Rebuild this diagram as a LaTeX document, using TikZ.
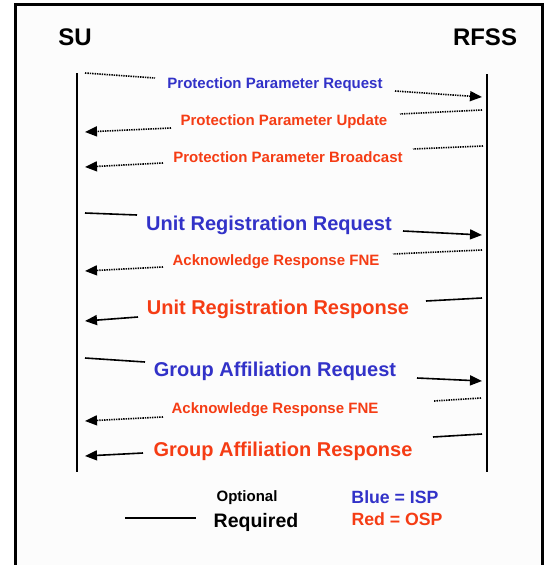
\documentclass[tikz,border=0pt]{standalone}
\usepackage{fontspec}
\setmainfont{Liberation Sans}
\usetikzlibrary{arrows.meta}
\definecolor{ispblue}{RGB}{50,50,200}
\definecolor{ospred}{RGB}{245,60,20}
\tikzset{
  optline/.style={line width=1.6pt, dash pattern=on 1.4pt off 1pt},
  reqline/.style={line width=1.6pt},
  tip/.style={-{Triangle[length=12pt,width=10pt]}},
  lifeline/.style={line width=2.6pt},
  frameline/.style={line width=3pt},
  head/.style={anchor=base, font=\fontsize{24}{28}\selectfont\bfseries},
  msgS/.style={anchor=base, font=\fontsize{15}{18}\selectfont\bfseries},
  msgL/.style={anchor=base, font=\fontsize{20}{24}\selectfont\bfseries},
  isp/.style={text=ispblue},
  osp/.style={text=ospred},
}
\begin{document}
\begin{tikzpicture}[x=1pt,y=-1pt]
\useasboundingbox (0,0) rectangle (546,565);
\clip (0,0) rectangle (546,565);
\fill[white!99!black] (15,4) rectangle (542,570);
\draw[frameline] (15,570) -- (15,4) -- (542,4) -- (542,570);

% headers
\node[head] (su) at (75,45) {SU};
\node[head] (rfss) at (485,45) {RFSS};

% lifelines
\coordinate (suTop) at (77,73);
\coordinate (suBot) at (77,472);
\coordinate (rfTop) at (487,74);
\coordinate (rfBot) at (487,472);
\draw[lifeline] (suTop) -- (suBot);
\draw[lifeline] (rfTop) -- (rfBot);

% 1 Protection Parameter Request
\coordinate (m1a) at (85,73);  \coordinate (m1b) at (155,78);
\coordinate (m1c) at (395,91); \coordinate (m1d) at (482,97);
\node[msgS,isp] (t1) at (275,88.4) {Protection Parameter Request};
\draw[optline] (m1a) -- (m1b);
\draw[optline,tip] (m1c) -- (m1d);

% 2 Protection Parameter Update
\coordinate (m2a) at (482,110); \coordinate (m2b) at (400,114);
\coordinate (m2c) at (171,128); \coordinate (m2d) at (85,132);
\node[msgS,osp] (t2) at (284,125.4) {Protection Parameter Update};
\draw[optline] (m2a) -- (m2b);
\draw[optline,tip] (m2c) -- (m2d);

% 3 Protection Parameter Broadcast
\coordinate (m3a) at (483,146); \coordinate (m3b) at (413,149);
\coordinate (m3c) at (163,163); \coordinate (m3d) at (85,167);
\node[msgS,osp] (t3) at (288,162.4) {Protection Parameter Broadcast};
\draw[optline] (m3a) -- (m3b);
\draw[optline,tip] (m3c) -- (m3d);

% 4 Unit Registration Request
\coordinate (m4a) at (85,213);  \coordinate (m4b) at (137,215);
\coordinate (m4c) at (403,231); \coordinate (m4d) at (482,235);
\node[msgL,isp] (t4) at (269,230.2) {Unit Registration Request};
\draw[reqline] (m4a) -- (m4b);
\draw[reqline,tip] (m4c) -- (m4d);

% 5 Acknowledge Response FNE
\coordinate (m5a) at (482,250); \coordinate (m5b) at (393,254);
\coordinate (m5c) at (163,267); \coordinate (m5d) at (85,271);
\node[msgS,osp] (t5) at (276,265.4) {Acknowledge Response FNE};
\draw[optline] (m5a) -- (m5b);
\draw[optline,tip] (m5c) -- (m5d);

% 6 Unit Registration Response
\coordinate (m6a) at (482,298); \coordinate (m6b) at (426,301);
\coordinate (m6c) at (138,317); \coordinate (m6d) at (85,321);
\node[msgL,osp] (t6) at (278,314.2) {Unit Registration Response};
\draw[reqline] (m6a) -- (m6b);
\draw[reqline,tip] (m6c) -- (m6d);

% 7 Group Affiliation Request
\coordinate (m7a) at (85,358);  \coordinate (m7b) at (145,362);
\coordinate (m7c) at (417,378); \coordinate (m7d) at (482,381);
\node[msgL,isp] (t7) at (275,376.2) {Group Affiliation Request};
\draw[reqline] (m7a) -- (m7b);
\draw[reqline,tip] (m7c) -- (m7d);

% 8 Acknowledge Response FNE
\coordinate (m8a) at (481,398); \coordinate (m8b) at (434,401);
\coordinate (m8c) at (163,417); \coordinate (m8d) at (85,421);
\node[msgS,osp] (t8) at (275,413.4) {Acknowledge Response FNE};
\draw[optline] (m8a) -- (m8b);
\draw[optline,tip] (m8c) -- (m8d);

% 9 Group Affiliation Response
\coordinate (m9a) at (482,434); \coordinate (m9b) at (433,437);
\coordinate (m9c) at (143,453); \coordinate (m9d) at (85,456);
\node[msgL,osp] (t9) at (283,456.5) {Group Affiliation Response};
\draw[reqline] (m9a) -- (m9b);
\draw[reqline,tip] (m9c) -- (m9d);

% legend
\node[anchor=base, font=\fontsize{15}{18}\selectfont\bfseries] (lopt) at (247,501.7) {Optional};
\node[anchor=base, font=\fontsize{19.5}{23}\selectfont\bfseries] (lreq) at (256,527) {Required};
\coordinate (lra) at (125,518); \coordinate (lrb) at (196,518);
\draw[line width=1.2pt] (lra) -- (lrb);
\node[anchor=base, isp, font=\fontsize{17.7}{21}\selectfont\bfseries] (lisp) at (395,503) {Blue = ISP};
\node[anchor=base, osp, font=\fontsize{17.7}{21}\selectfont\bfseries] (losp) at (397,525.7) {Red = OSP};
\end{tikzpicture}
\end{document}
